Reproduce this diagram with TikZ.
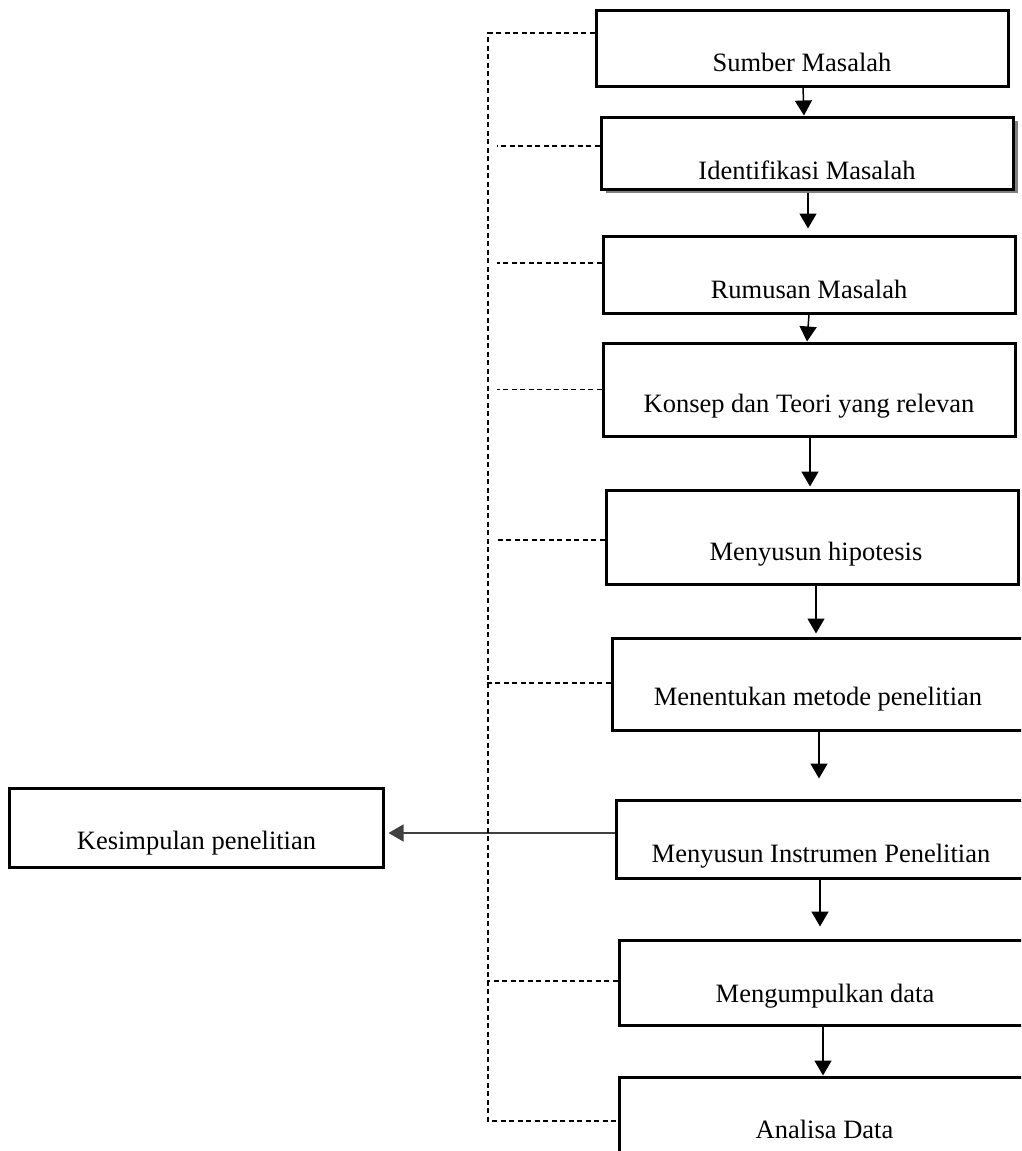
\documentclass[tikz,border=0pt]{standalone}
\usepackage{fontspec}
\setmainfont{Liberation Serif}
\usetikzlibrary{arrows.meta,calc,shadows}
\begin{document}
\begin{tikzpicture}[x=1pt,y=-1pt,
  box/.style={draw, fill=white, line width=3pt, rectangle, inner sep=0pt},
  lbl/.style={font=\fontsize{26.5}{30}\selectfont, inner sep=0pt, anchor=base},
  arr/.style={line width=1.5pt, -{Triangle[length=15pt,width=17pt]}},
  dsh/.style={line width=1.2pt, dash pattern=on 5pt off 3.5pt}]
\useasboundingbox (0,0) rectangle (1021,1151);
\fill[white] (0,0) rectangle (1021,1151);
\clip (0,0) rectangle (1021,1151);

% boxes
\node[box, minimum width=412pt, minimum height=76pt] (b1) at (802,48) {};
\node[box, minimum width=412pt, minimum height=72pt,
      drop shadow={shadow xshift=5pt, shadow yshift=-4pt, fill=gray, opacity=1}] (b2) at (807,153) {};
\node[box, minimum width=412pt, minimum height=77pt] (b3) at (809,274.5) {};
\node[box, minimum width=412pt, minimum height=93pt] (b4) at (809,389.5) {};
\node[box, minimum width=412pt, minimum height=94pt] (b5) at (812,537) {};
\node[box, minimum width=423pt, minimum height=92pt] (b6) at (823.5,684) {};
\node[box, minimum width=419pt, minimum height=78pt] (b7) at (825.5,839) {};
\node[box, minimum width=416pt, minimum height=85pt] (b8) at (827,982.5) {};
\node[box, minimum width=416pt, minimum height=93pt] (b9) at (827,1123.5) {};
\node[box, minimum width=374pt, minimum height=79pt] (k) at (196,827.5) {};

% labels
\node[lbl] (t1) at (802,71) {Sumber Masalah};
\node[lbl] (t2) at (807,179) {Identifikasi Masalah};
\node[lbl] (t3) at (809,298) {Rumusan Masalah};
\node[lbl] (t4) at (809,412) {Konsep dan Teori yang relevan};
\node[lbl] (t5) at (816,560) {Menyusun hipotesis};
\node[lbl] (t6) at (818,705) {Menentukan metode penelitian};
\node[lbl] (t7) at (821,862) {Menyusun Instrumen Penelitian};
\node[lbl] (t8) at (825,1002) {Mengumpulkan data};
\node[lbl] (t9) at (824.5,1138) {Analisa Data};
\node[lbl] (tk) at (196.5,849) {Kesimpulan penelitian};

% arrows
\draw[arr] ($(b1.south)+(1,0)$) -- ($(b2.north)+(-3,0)$);
\draw[arr] ($(b2.south)+(1,2)$) -- ($(b3.north)+(-1,-6)$);
\draw[arr] ($(b3.south)+(0,0)$) -- ($(b4.north)+(-2,0)$);
\draw[arr] ($(b4.south)+(1,0)$) -- ($(b5.north)+(-2,-2)$);
\draw[arr] ($(b5.south)+(4,0)$) -- ($(b6.north)+(-7.5,-3)$);
\draw[arr] ($(b6.south)+(-4.5,0)$) -- ($(b7.north)+(-6.5,-20)$);
\draw[arr] ($(b7.south)+(-5.5,0)$) -- ($(b8.north)+(-7,-12)$);
\draw[arr] ($(b8.south)+(-4,0)$) -- ($(b9.north)+(-4,0)$);
\draw[arr, draw=black!75] ($(b7.west)+(0,-6)$) -- ($(k.east)+(4,5.5)$);

% dashed feedback lines
\coordinate (dtop) at (488,33);
\coordinate (dbot) at (488,1121);
\draw[dsh] ($(b1.west)+(0,-15)$) -- (dtop) -- (dbot) -- ($(b9.west)+(0,-2.5)$);
\draw[dsh] ($(b2.west)+(0,-7)$) -- ++(-103,0);
\draw[dsh] ($(b3.west)+(0,-11.5)$) -- ++(-105,0);
\draw[dsh] ($(b4.west)+(0,0)$) -- ++(-105,0);
\draw[dsh] ($(b5.west)+(0,3)$) -- ++(-108,0);
\draw[dsh] ($(b6.west)+(0,-1)$) -- ++(-124,0);
\draw[dsh] ($(b8.west)+(0,-1.5)$) -- ++(-131,0);
\end{tikzpicture}
\end{document}
